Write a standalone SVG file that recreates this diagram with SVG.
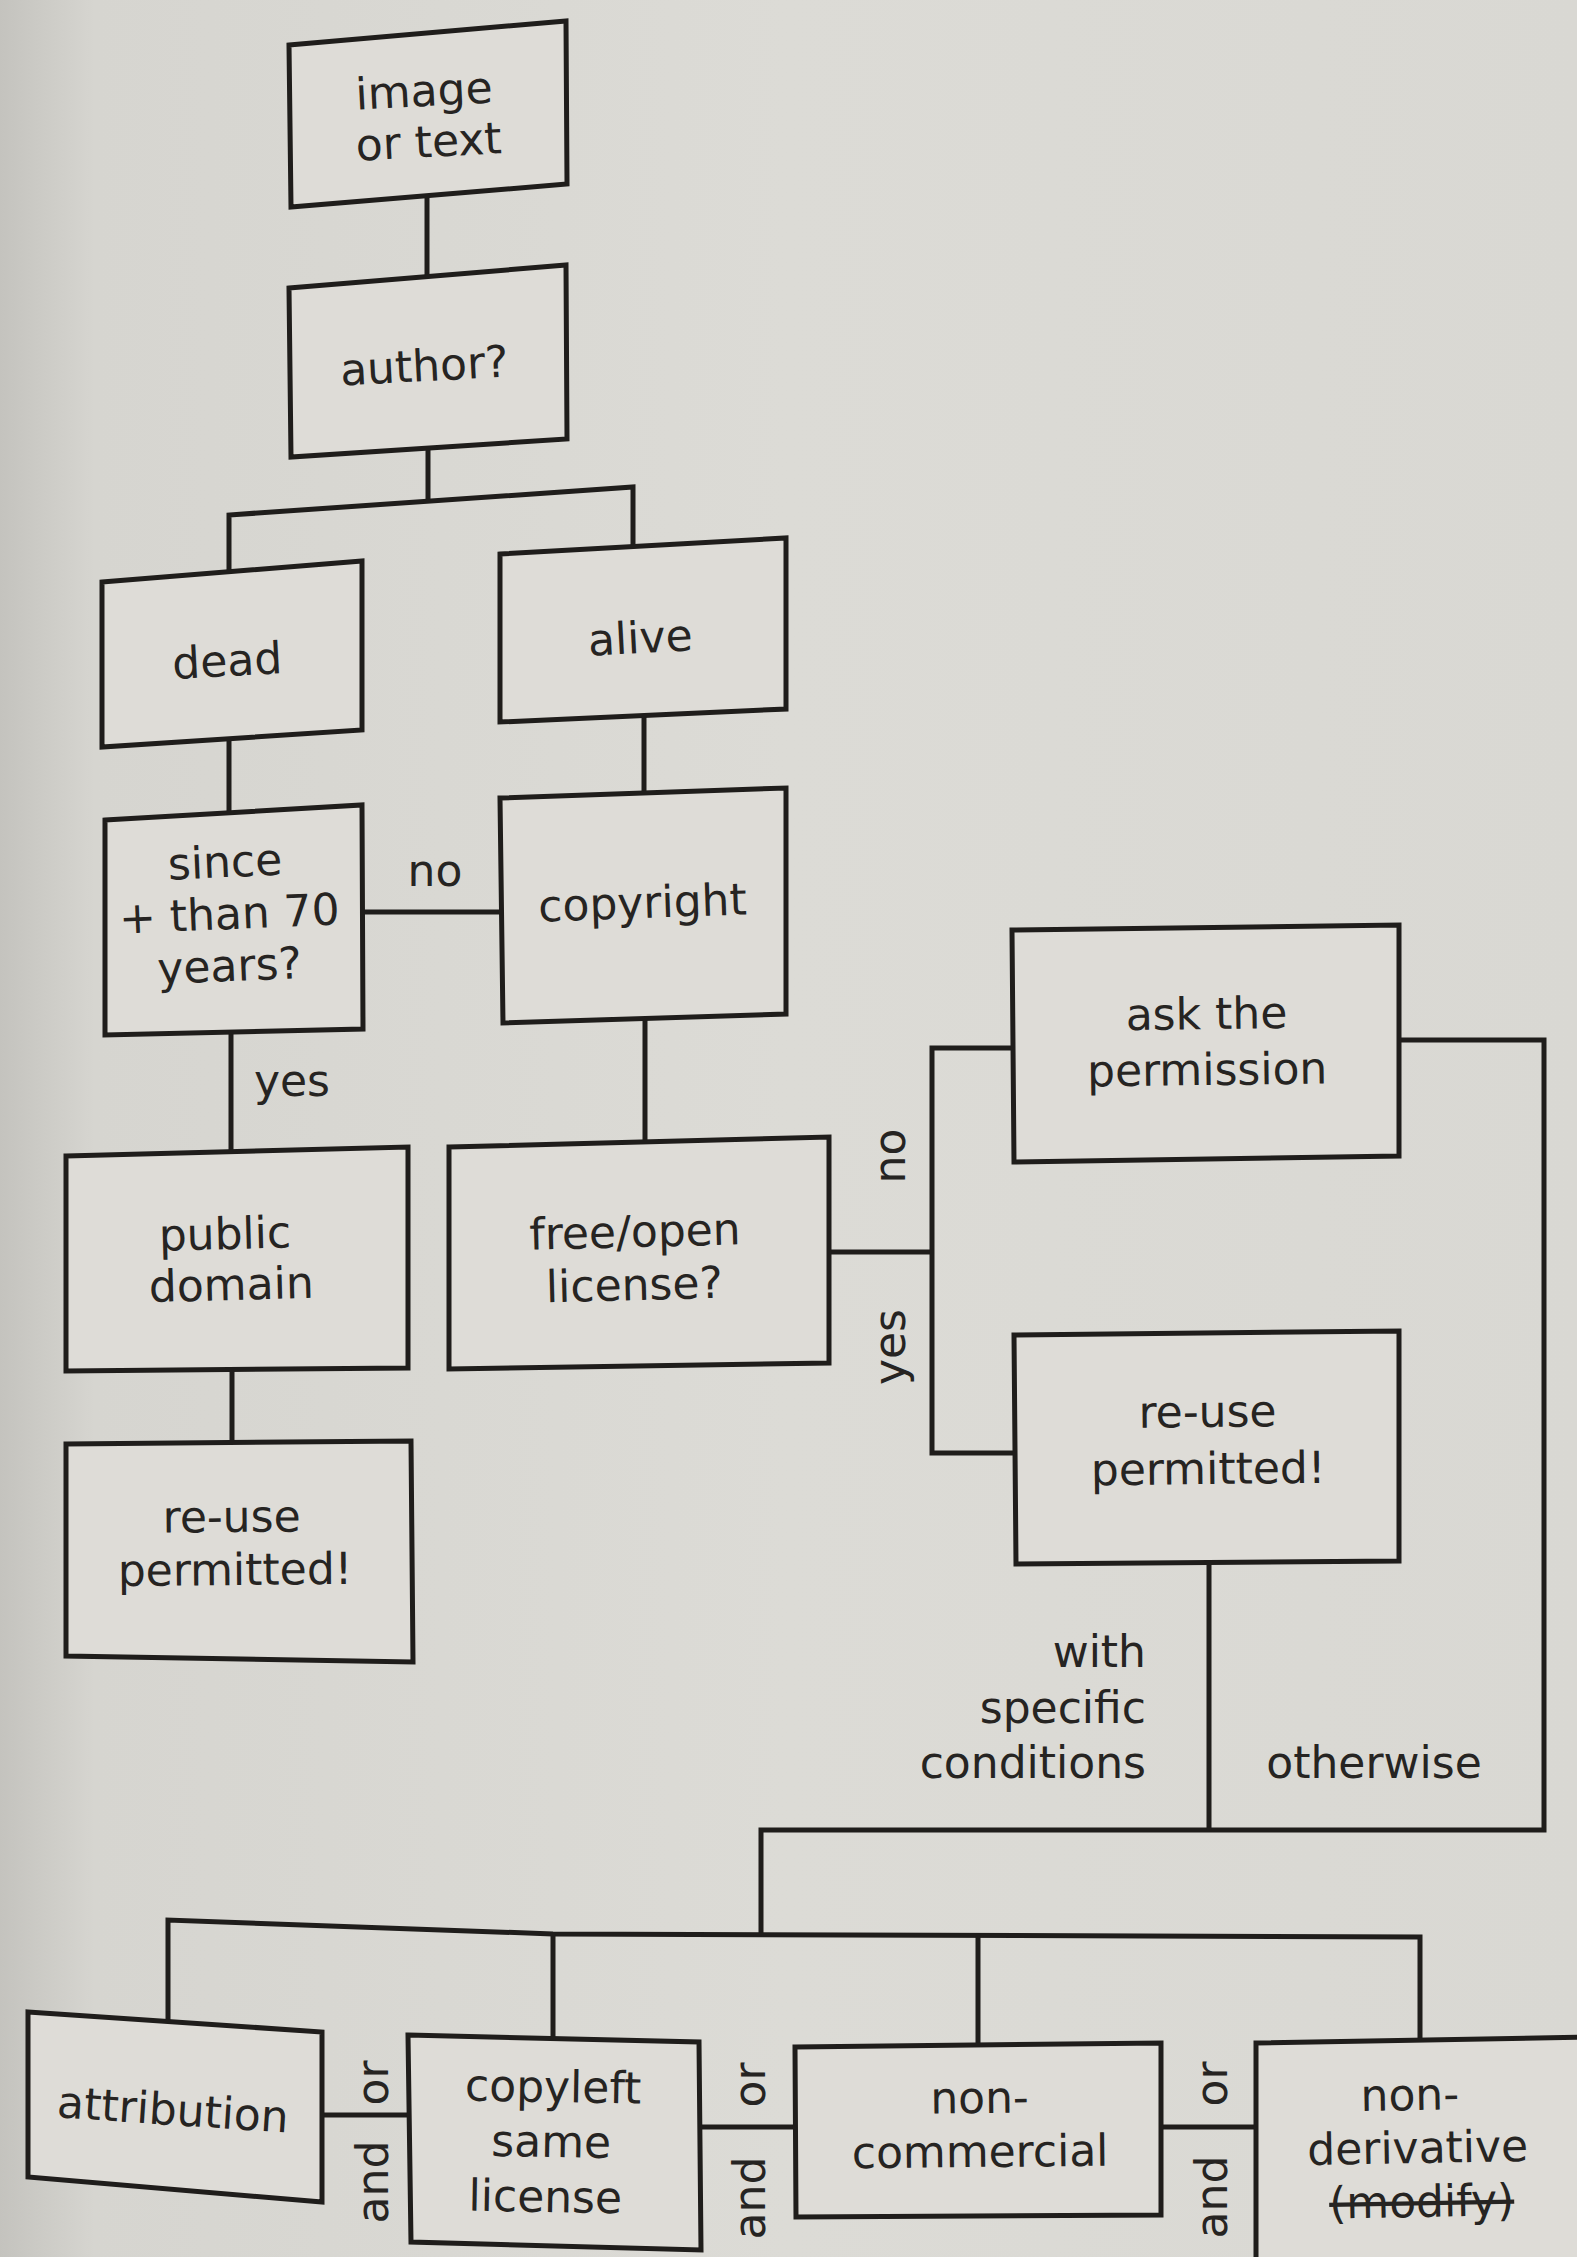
<svg xmlns="http://www.w3.org/2000/svg" width="1577" height="2257" viewBox="0 0 1577 2257">
<defs>
<linearGradient id="paper" x1="0" y1="0" x2="1" y2="0">
<stop offset="0" stop-color="#c4c3be"/>
<stop offset="0.06" stop-color="#d6d5d0"/>
<stop offset="0.5" stop-color="#dcdbd6"/>
<stop offset="1" stop-color="#d9d8d3"/>
</linearGradient>
<style>
.box{fill:#dedcd7;stroke:#1f1d1b;stroke-width:5;stroke-linejoin:miter}
.con{fill:none;stroke:#1f1d1b;stroke-width:5;stroke-linejoin:miter}
.t{font-family:"DejaVu Sans","Liberation Sans",sans-serif;font-size:44px;fill:#262422;text-anchor:middle}
.r{text-anchor:end}
.s{text-decoration:line-through}
</style>
</defs>
<rect x="0" y="0" width="1577" height="2257" fill="url(#paper)"/>

<g id="connectors">
<path class="con" d="M427,194 L427,278"/>
<path class="con" d="M428,446 L428,501"/>
<path class="con" d="M229,572 L229,515 L633,487 L633,547"/>
<path class="con" d="M644,715 L644,793"/>
<path class="con" d="M229,739 L229,813"/>
<path class="con" d="M362,912 L501,912"/>
<path class="con" d="M231,1032 L231,1152"/>
<path class="con" d="M645,1018 L645,1142"/>
<path class="con" d="M232,1370 L232,1443"/>
<path class="con" d="M829,1252 L932,1252"/>
<path class="con" d="M1013,1048 L932,1048 L932,1453 L1015,1453"/>
<path class="con" d="M1399,1040 L1544,1040 L1544,1830 L761,1830 L761,1936"/>
<path class="con" d="M1209,1562 L1209,1830"/>
<path class="con" d="M168,2025 L168,1920 L553,1934 L1420,1937 L1420,2040"/>
<path class="con" d="M553,1934 L553,2038"/>
<path class="con" d="M978,1936 L978,2045"/>
<path class="con" d="M322,2115 L408,2115"/>
<path class="con" d="M701,2127 L796,2127"/>
<path class="con" d="M1161,2127 L1256,2127"/>
</g>

<g id="edge-labels">
<text class="t" x="435" y="886">no</text>
<text class="t" x="292" y="1096">yes</text>
<text class="t" transform="rotate(-90 905 1156)" x="905" y="1156">no</text>
<text class="t" transform="rotate(-90 905 1347)" x="905" y="1347">yes</text>
<text class="t r" x="1146" y="1667">with</text>
<text class="t r" x="1146" y="1723">specific</text>
<text class="t r" x="1146" y="1778">conditions</text>
<text class="t" x="1374" y="1778">otherwise</text>
<text class="t" transform="rotate(-90 388 2083)" x="388" y="2083">or</text>
<text class="t" transform="rotate(-90 388 2182)" x="388" y="2182">and</text>
<text class="t" transform="rotate(-90 765 2085)" x="765" y="2085">or</text>
<text class="t" transform="rotate(-90 765 2198)" x="765" y="2198">and</text>
<text class="t" transform="rotate(-90 1227 2084)" x="1227" y="2084">or</text>
<text class="t" transform="rotate(-90 1227 2197)" x="1227" y="2197">and</text>
</g>

<g id="node-image-or-text">
<polygon class="box" points="289,45 566,21 567,184 291,207"/>
<g transform="rotate(-3 428 130)">
<text class="t" x="426" y="106">image</text>
<text class="t" x="428" y="157">or text</text>
</g>
</g>

<g id="node-author">
<polygon class="box" points="289,288 566,265 567,439 291,457"/>
<text class="t" transform="rotate(-3 425 381)" x="425" y="381">author?</text>
</g>

<g id="node-dead">
<polygon class="box" points="102,582 362,561 362,730 102,747"/>
<text class="t" transform="rotate(-3 228 676)" x="228" y="676">dead</text>
</g>

<g id="node-alive">
<polygon class="box" points="500,554 786,538 786,709 500,722"/>
<text class="t" transform="rotate(-3 641 653)" x="641" y="653">alive</text>
</g>

<g id="node-since">
<polygon class="box" points="105,820 362,805 363,1029 105,1035"/>
<g transform="rotate(-2.5 230 930)">
<text class="t" x="228" y="877">since</text>
<text class="t" x="230" y="929">+ than 70</text>
<text class="t" x="228" y="981">years?</text>
</g>
</g>

<g id="node-copyright">
<polygon class="box" points="500,798 786,788 786,1014 503,1023"/>
<text class="t" transform="rotate(-2 643 918)" x="643" y="918">copyright</text>
</g>

<g id="node-public-domain">
<polygon class="box" points="66,1156 408,1147 408,1368 66,1371"/>
<g transform="rotate(-1.5 230 1275)">
<text class="t" x="226" y="1249">public</text>
<text class="t" x="231" y="1300">domain</text>
</g>
</g>

<g id="node-reuse-left">
<polygon class="box" points="66,1444 411,1441 413,1662 66,1656"/>
<g transform="rotate(-0.5 234 1560)">
<text class="t" x="232" y="1532">re-use</text>
<text class="t" x="235" y="1585">permitted!</text>
</g>
</g>

<g id="node-free-open">
<polygon class="box" points="449,1147 829,1137 829,1363 449,1369"/>
<g transform="rotate(-1.5 636 1272)">
<text class="t" x="636" y="1247">free/open</text>
<text class="t" x="634" y="1300">license?</text>
</g>
</g>

<g id="node-ask">
<polygon class="box" points="1012,930 1399,925 1399,1156 1014,1162"/>
<g transform="rotate(-0.7 1207 1055)">
<text class="t" x="1207" y="1029">ask the</text>
<text class="t" x="1207" y="1085">permission</text>
</g>
</g>

<g id="node-reuse-right">
<polygon class="box" points="1014,1335 1399,1331 1399,1561 1016,1564"/>
<g transform="rotate(-0.6 1208 1455)">
<text class="t" x="1208" y="1427">re-use</text>
<text class="t" x="1208" y="1484">permitted!</text>
</g>
</g>

<g id="node-attribution">
<polygon class="box" points="28,2012 322,2032 322,2202 28,2177"/>
<text class="t" transform="rotate(3.8 172 2125)" x="172" y="2125">attribution</text>
</g>

<g id="node-copyleft">
<polygon class="box" points="408,2035 699,2042 701,2250 411,2242"/>
<g transform="rotate(1 550 2157)">
<text class="t" x="552" y="2102">copyleft</text>
<text class="t" x="551" y="2157">same</text>
<text class="t" x="546" y="2212">license</text>
</g>
</g>

<g id="node-non-commercial">
<polygon class="box" points="795,2047 1161,2043 1161,2215 796,2217"/>
<g transform="rotate(-0.6 980 2140)">
<text class="t" x="980" y="2113">non-</text>
<text class="t" x="980" y="2167">commercial</text>
</g>
</g>

<g id="node-non-derivative">
<polygon class="box" points="1256,2043 1590,2037 1590,2270 1256,2270"/>
<g transform="rotate(-1 1418 2163)">
<text class="t" x="1411" y="2110">non-</text>
<text class="t" x="1418" y="2163">derivative</text>
<text class="t s" x="1421" y="2217">(modify)</text>
</g>
</g>
</svg>
